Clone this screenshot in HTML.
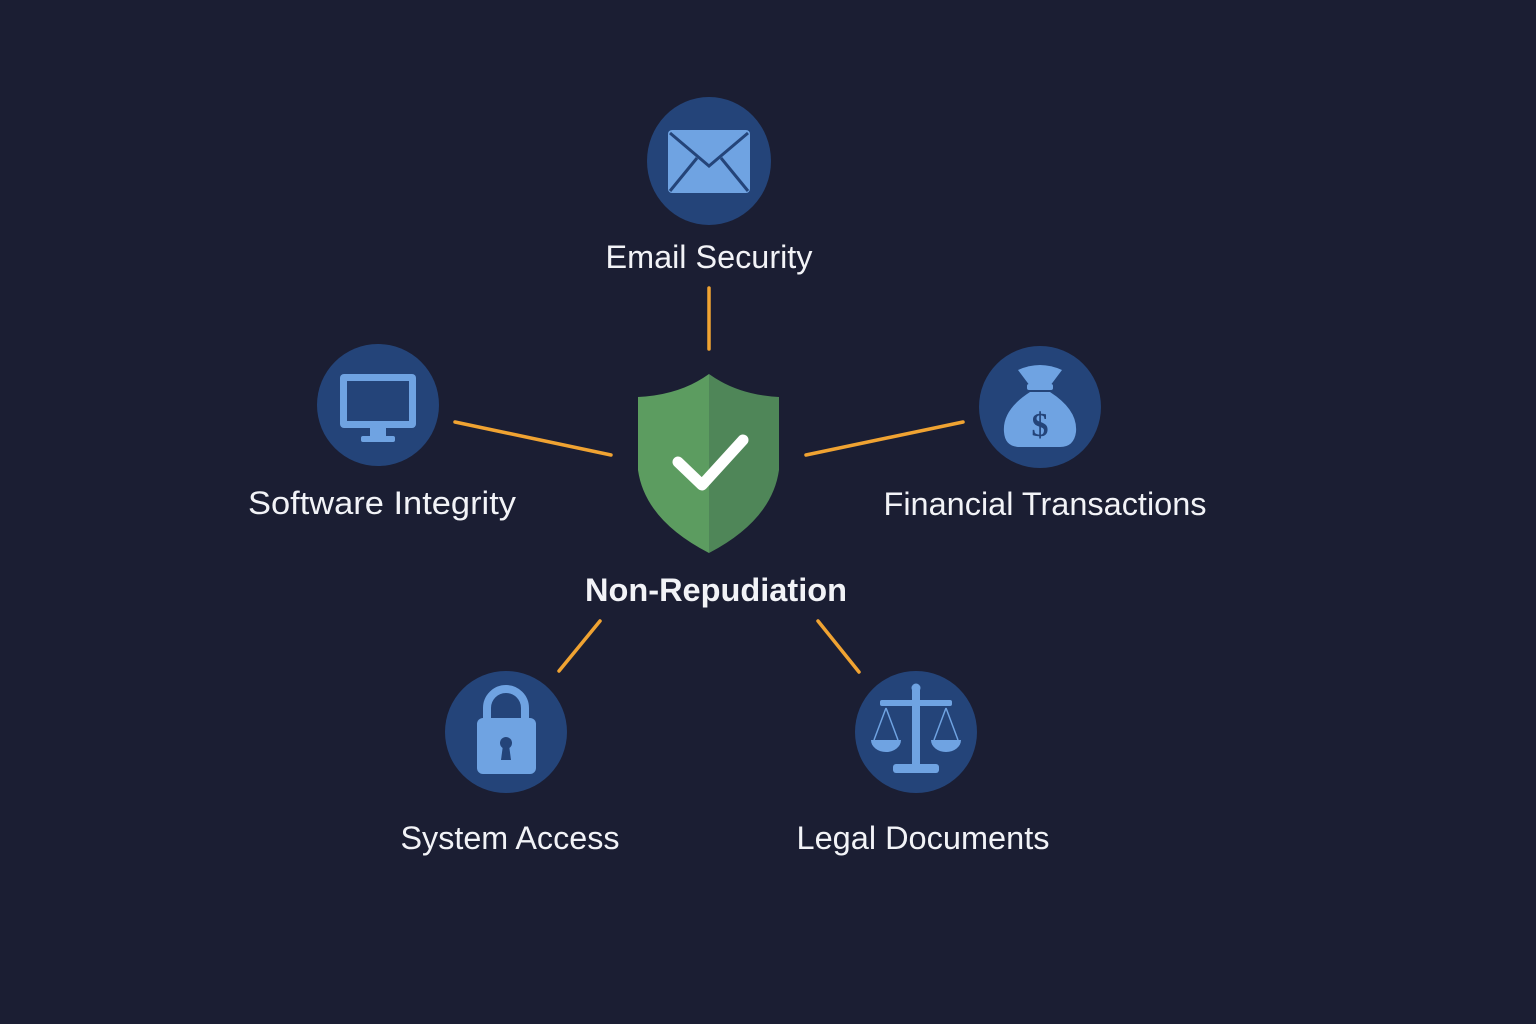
<!DOCTYPE html>
<html><head><meta charset="utf-8"><style>
html,body{margin:0;padding:0;background:#1b1e33;}
svg{display:block}
text{font-family:"Liberation Sans",sans-serif;fill:#f2f3f7}
</style></head><body>
<svg width="1536" height="1024" viewBox="0 0 1536 1024" xmlns="http://www.w3.org/2000/svg">
<rect width="1536" height="1024" fill="#1b1e33"/>
<g stroke="#f0a332" stroke-width="3.5" stroke-linecap="round">
<line x1="709" y1="288" x2="709" y2="349"/>
<line x1="455" y1="422" x2="611" y2="455"/>
<line x1="806" y1="455" x2="963" y2="422"/>
<line x1="600" y1="621" x2="559" y2="671"/>
<line x1="818" y1="621" x2="859" y2="672"/>
</g>
<g fill="#244479">
<ellipse cx="709" cy="161" rx="62" ry="64"/>
<circle cx="378" cy="405" r="61"/>
<circle cx="1040" cy="407" r="61"/>
<circle cx="506" cy="732" r="61"/>
<circle cx="916" cy="732" r="61"/>
</g>
<!-- email -->
<rect x="668" y="130" width="82" height="63" rx="4" fill="#6fa3e2"/>
<polyline points="670,133 709,166 748,133" fill="none" stroke="#244479" stroke-width="3"/>
<line x1="670" y1="191" x2="697" y2="158" stroke="#244479" stroke-width="3"/>
<line x1="748" y1="191" x2="721" y2="158" stroke="#244479" stroke-width="3"/>
<!-- monitor -->
<rect x="340" y="374" width="76" height="54" rx="4" fill="#6fa3e2"/>
<rect x="347" y="381" width="62" height="40" fill="#244479"/>
<rect x="370" y="428" width="16" height="8" fill="#6fa3e2"/>
<rect x="361" y="436" width="34" height="6" rx="2" fill="#6fa3e2"/>
<!-- money bag -->
<path d="M1018 370 Q1040 360 1062 370 L1050 386 L1030 386 Z" fill="#6fa3e2"/>
<rect x="1027" y="384" width="26" height="6" rx="2" fill="#6fa3e2"/>
<path d="M1030 392 L1050 392 Q1078 410 1076 432 Q1074 447 1060 447 L1020 447 Q1005 447 1004 432 Q1002 410 1030 392 Z" fill="#6fa3e2"/>
<text x="1040" y="436" text-anchor="middle" font-size="34" font-weight="bold" style="fill:#244479;font-family:'Liberation Serif',serif">$</text>
<!-- lock -->
<path d="M487 720 V708 A19 19 0 0 1 525 708 V720" fill="none" stroke="#6fa3e2" stroke-width="8"/>
<rect x="477" y="718" width="59" height="56" rx="6" fill="#6fa3e2"/>
<circle cx="506" cy="743" r="6" fill="#244479"/>
<path d="M503 745 L509 745 L511 760 L501 760 Z" fill="#244479"/>
<!-- scales -->
<g fill="#6fa3e2" stroke="#6fa3e2">
<circle cx="916" cy="688" r="4"/>
<rect x="880" y="700" width="72" height="6" rx="2" stroke="none"/>
<rect x="912" y="690" width="8" height="75" stroke="none"/>
<rect x="893" y="764" width="46" height="9" rx="3" stroke="none"/>
<line x1="886" y1="708" x2="874" y2="740" stroke-width="1.5"/>
<line x1="886" y1="708" x2="898" y2="740" stroke-width="1.5"/>
<line x1="946" y1="708" x2="934" y2="740" stroke-width="1.5"/>
<line x1="946" y1="708" x2="958" y2="740" stroke-width="1.5"/>
<path d="M871 740 H901 A15 12 0 0 1 871 740 Z" stroke="none"/>
<path d="M931 740 H961 A15 12 0 0 1 931 740 Z" stroke="none"/>
</g>
<!-- shield -->
<path d="M709 374 Q680 395 638 397 L638 470 Q645 520 709 553 Z" fill="#5c9c60"/>
<path d="M709 374 Q738 395 779 397 L779 470 Q772 520 709 553 Z" fill="#4f8658"/>
<polyline points="678,462 702,485 743,440" fill="none" stroke="#ffffff" stroke-width="11" stroke-linecap="round" stroke-linejoin="round"/>
<!-- labels -->
<g font-size="32" text-anchor="middle">
<text x="709" y="268" textLength="207" lengthAdjust="spacingAndGlyphs">Email Security</text>
<text x="382" y="514" textLength="268" lengthAdjust="spacingAndGlyphs">Software Integrity</text>
<text x="1045" y="515" textLength="323" lengthAdjust="spacingAndGlyphs">Financial Transactions</text>
<text x="510" y="849" textLength="219" lengthAdjust="spacingAndGlyphs">System Access</text>
<text x="923" y="849" textLength="253" lengthAdjust="spacingAndGlyphs">Legal Documents</text>
<text x="716" y="601" font-weight="bold" font-size="32" textLength="262" lengthAdjust="spacingAndGlyphs">Non-Repudiation</text>
</g>
</svg>
</body></html>
